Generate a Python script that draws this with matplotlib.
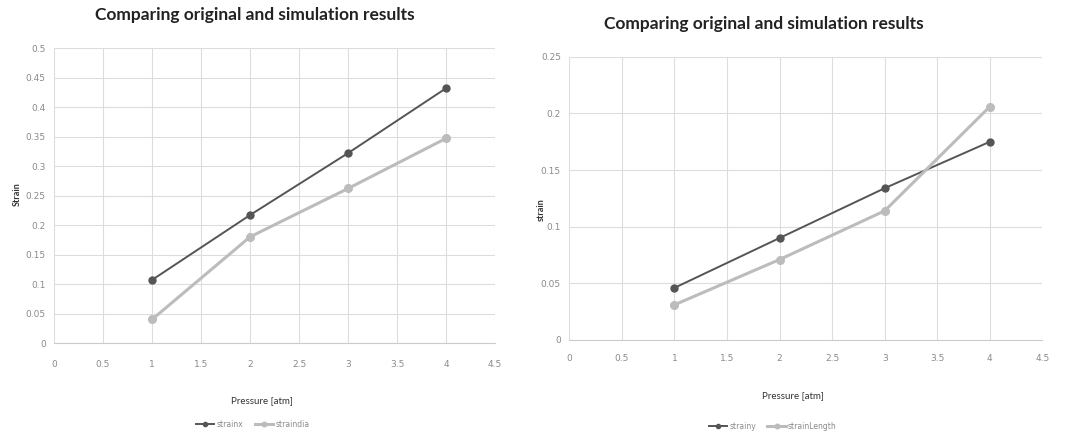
import matplotlib.pyplot as plt

# pressure steps
pressure = [1, 2, 3, 4]

# left chart
strainx = [0.107, 0.217, 0.322, 0.432]
straindia = [0.040, 0.180, 0.262, 0.347]

# right chart
strainy = [0.046, 0.090, 0.134, 0.175]
strain_length = [0.031, 0.071, 0.114, 0.206]

left_yticks = [0, 0.05, 0.1, 0.15, 0.2, 0.25, 0.3, 0.35, 0.4, 0.45, 0.5]
right_yticks = [0, 0.05, 0.1, 0.15, 0.2, 0.25]
xticks = [0, 0.5, 1, 1.5, 2, 2.5, 3, 3.5, 4, 4.5]

dark = '#555555'
light = '#bcbcbc'
tick_col = '#8a8a8a'

fig = plt.figure(figsize=(10.68, 4.37), dpi=100)

def style(ax, yticks, ylim, xpad):
    ax.set_xlim(0, 4.5)
    ax.set_ylim(0, ylim)
    ax.set_xticks(xticks)
    ax.set_xticklabels([f'{t:g}' for t in xticks])
    ax.set_yticks(yticks)
    ax.set_yticklabels([f'{t:g}' for t in yticks])
    ax.grid(True, color='#dddddd', linewidth=0.8)
    ax.set_axisbelow(True)
    for s in ['top', 'right', 'left']:
        ax.spines[s].set_visible(False)
    ax.spines['bottom'].set_color('#cccccc')
    ax.tick_params(length=0, labelsize=6.5, colors=tick_col)
    ax.tick_params(axis='x', pad=xpad)
    ax.tick_params(axis='y', pad=6)

ax1 = fig.add_axes([0.0506, 0.215, 0.413, 0.675])
ax1.plot(pressure, strainx, '-o', color=dark, lw=1.4, ms=5, label='strainx')
ax1.plot(pressure, straindia, '-o', color=light, lw=2.2, ms=5.5, label='straindia')
style(ax1, left_yticks, 0.5, 12)
fig.text(0.239, 0.965, 'Comparing original and simulation results', ha='center', va='center',
         fontsize=12.5, fontweight='bold', family='Lato', color='#222222')
fig.text(0.016, 0.555, 'Strain', rotation=90, ha='center', va='center',
         fontsize=6.5, fontweight='bold', family='Lato', color='#333333')
fig.text(0.245, 0.083, 'Pressure [atm]', ha='center', va='center',
         fontsize=7, family='Lato', color='#333333')
ax1.legend(loc='center', bbox_to_anchor=(0.45, -0.276), ncol=2, frameon=False,
           fontsize=5.5, labelcolor=tick_col, handlelength=2.4, markerscale=0.6,
           columnspacing=1.5, handletextpad=0.3)

ax2 = fig.add_axes([0.533, 0.222, 0.443, 0.648])
ax2.plot(pressure, strainy, '-o', color=dark, lw=1.4, ms=5, label='strainy')
ax2.plot(pressure, strain_length, '-o', color=light, lw=2.2, ms=5.5, label='strainLength')
style(ax2, right_yticks, 0.25, 10)
fig.text(0.715, 0.945, 'Comparing original and simulation results', ha='center', va='center',
         fontsize=12.5, fontweight='bold', family='Lato', color='#222222')
fig.text(0.507, 0.52, 'strain', rotation=90, ha='center', va='center',
         fontsize=6.5, fontweight='bold', family='Lato', color='#333333')
fig.text(0.742, 0.095, 'Pressure [atm]', ha='center', va='center',
         fontsize=7, family='Lato', color='#333333')
ax2.legend(loc='center', bbox_to_anchor=(0.43, -0.305), ncol=2, frameon=False,
           fontsize=5.5, labelcolor=tick_col, handlelength=2.4, markerscale=0.6,
           columnspacing=1.5, handletextpad=0.3)

fig.savefig('out.png', dpi=100)
